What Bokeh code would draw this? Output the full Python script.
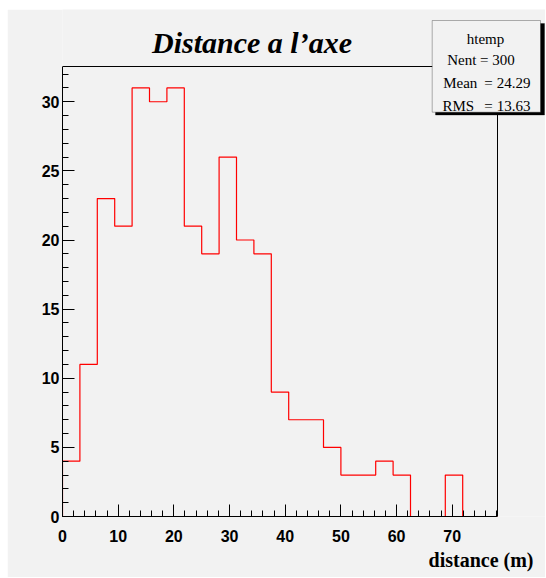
from bokeh.plotting import figure
from bokeh.models import Range1d, SingleIntervalTicker, Label, BoxAnnotation, Title
from bokeh.embed import file_html
from bokeh.resources import INLINE

# ---- data ----
bin_width = 3.125
counts = [4, 11, 23, 21, 31, 30, 31, 21, 19, 26, 20, 19, 9, 7, 7, 5, 3, 3, 4, 3, 0, 0, 3, 0, 0]
title_text = "Distance a l\u2019axe"
x_label = "distance (m)"
stats_name = "htemp"
stats_nent = 300
stats_mean = 24.29
stats_rms = 13.63

nb = len(counts)
x_max = nb * bin_width
y_max = 1.05 * max(counts)

# step outline vertices built from the counts
xs, ys = [0.0], [0.0]
for i, c in enumerate(counts):
    xs += [i * bin_width, (i + 1) * bin_width]
    ys += [c, c]
xs.append(x_max)
ys.append(0)

# ---- layout (pixels) ----
W, H = 538, 568
FL, FB = 55, 61            # frame left / bottom borders
HIST_W, HIST_H = 435, 450  # visible histogram box size in px
frame_w = W - FL
frame_h = H - FB
x_hi = x_max * frame_w / HIST_W
y_hi = y_max * frame_h / HIST_H

BG = "#f2f2f2"
p = figure(width=W, height=H, output_backend="svg", toolbar_location=None,
           x_range=Range1d(0, x_hi), y_range=Range1d(0, y_hi),
           min_border_left=FL, min_border_right=0, min_border_top=0, min_border_bottom=FB,
           margin=(9, 0, 0, 7))
p.background_fill_color = BG
p.border_fill_color = BG
p.outline_line_color = None
p.grid.visible = False

# frame top / right lines of the histogram pad
p.segment(x0=[0, x_max], y0=[y_max, 0], x1=[x_max, x_max], y1=[y_max, y_max],
          line_color="black", line_width=1)

p.line(xs, ys, line_color="#ff0000", line_width=1.2)

tick_font = "Liberation Sans"
for ax in (p.xaxis[0], p.yaxis[0]):
    ax.axis_line_color = "black"
    ax.major_tick_line_color = "black"
    ax.minor_tick_line_color = "black"
    ax.major_tick_in = 12
    ax.major_tick_out = 0
    ax.minor_tick_in = 6
    ax.minor_tick_out = 0
    ax.major_label_text_font = tick_font
    ax.major_label_text_font_style = "bold"
    ax.major_label_text_font_size = "16px"
    ax.major_label_text_color = "black"

p.xaxis[0].bounds = (0, x_max)
p.yaxis[0].bounds = (0, y_max)
p.xaxis[0].ticker = SingleIntervalTicker(interval=10, num_minor_ticks=5)
p.yaxis[0].ticker = SingleIntervalTicker(interval=5, num_minor_ticks=5)
p.xaxis[0].major_label_standoff = 13
p.yaxis[0].major_label_standoff = 3

# x axis title (below panel, right aligned)
p.add_layout(Title(text=x_label, align="right", offset=12, standoff=4,
                   text_font="Liberation Serif", text_font_style="bold",
                   text_font_size="20px", text_color="black"), "below")

# main title
p.add_layout(Label(x=189.5, y=474, x_units="screen", y_units="screen", text=title_text,
                   text_font="Liberation Serif", text_font_style="bold italic",
                   text_font_size="30px", text_align="center", text_baseline="alphabetic",
                   text_color="black"))

# stats box (shadow + box)
p.add_layout(BoxAnnotation(left=373, right=482, top=493, bottom=401.5,
                           left_units="screen", right_units="screen",
                           top_units="screen", bottom_units="screen",
                           fill_color="black", fill_alpha=1.0, line_color="black"))
p.add_layout(BoxAnnotation(left=369.7, right=478, top=496, bottom=404.3,
                           left_units="screen", right_units="screen",
                           top_units="screen", bottom_units="screen",
                           fill_color=BG, fill_alpha=1.0, line_color="black", line_width=1))

def stat(x, y, t, align="left"):
    p.add_layout(Label(x=x, y=y + 5, x_units="screen", y_units="screen", text=t,
                       text_font="Liberation Serif", text_font_size="15px",
                       text_align=align, text_baseline="alphabetic", text_color="black"))

stat(423, 473, stats_name, "center")
stat(384.7, 452, "Nent = %d" % stats_nent)
stat(380.7, 429, "Mean")
stat(426, 429, "=", "center")
stat(468, 429, "%.2f" % stats_mean, "right")
stat(380, 406, "RMS")
stat(426, 406, "=", "center")
stat(468, 406, "%.2f" % stats_rms, "right")

open("out.html", "w").write(file_html(p, INLINE))
